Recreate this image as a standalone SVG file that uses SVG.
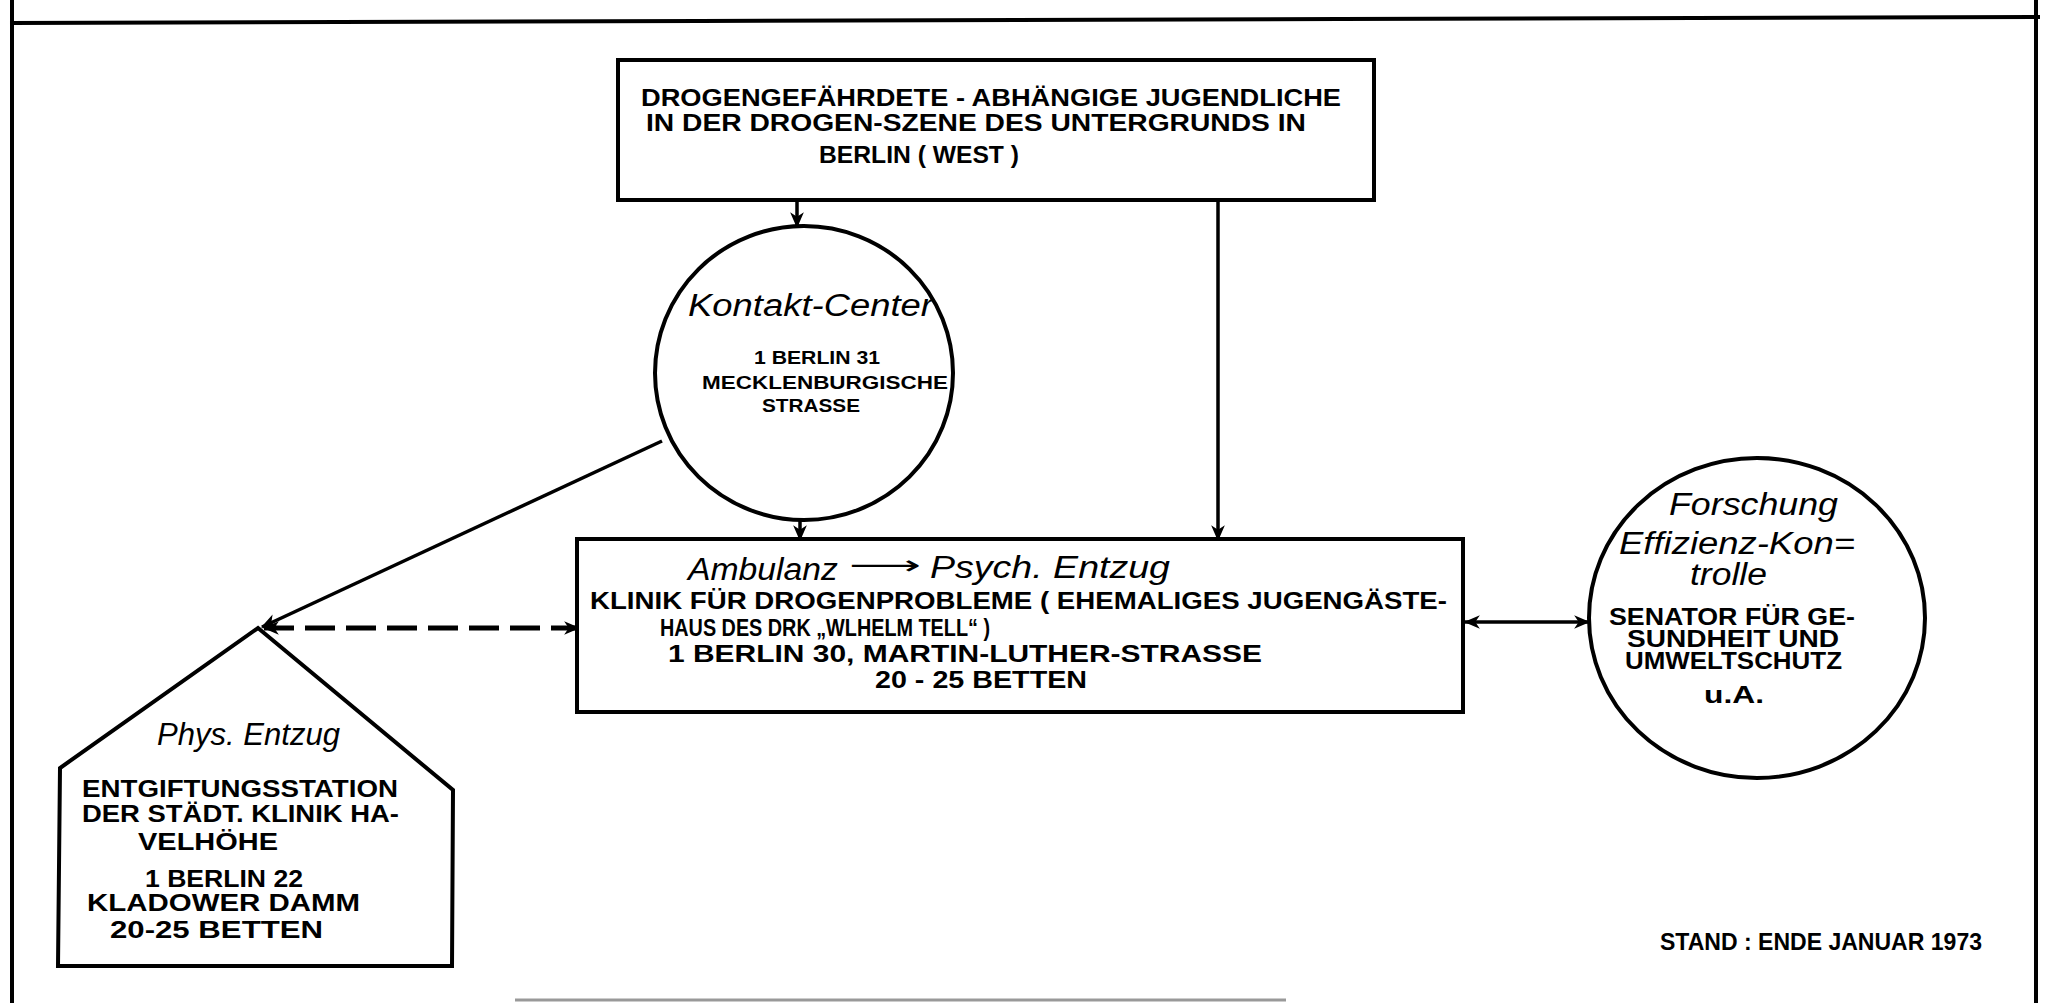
<svg xmlns="http://www.w3.org/2000/svg" width="2048" height="1003" viewBox="0 0 2048 1003">
<defs>
<style>
.frame{stroke:#000;stroke-width:4;fill:none}
.node{fill:#fff;stroke:#000;stroke-width:4}
.conn{stroke:#000;stroke-width:3.5;fill:none}
.dash{stroke-dasharray:30 11;stroke-width:5}
.t{font-family:"Liberation Sans",Arial,sans-serif;font-weight:bold;font-size:23px;fill:#000}
.s{font-size:19px}
.h{font-family:"Liberation Sans",Arial,sans-serif;font-style:italic;font-size:31px;fill:#000}
</style>
<marker id="ah" viewBox="0 0 14 12" refX="13" refY="6" markerWidth="16" markerHeight="14" markerUnits="userSpaceOnUse" orient="auto-start-reverse">
<path d="M0,0 L14,6 L0,12 L4,6 z" fill="#000"/>
</marker>
</defs>
<rect width="2048" height="1003" fill="#fff"/>
<g id="frame">
<polyline class="frame" points="10,23 700,21 1340,19 2040,17"/>
<line class="frame" x1="12" y1="0" x2="12" y2="1003"/>
<line class="frame" x1="2036" y1="0" x2="2036" y2="1003"/>
<line x1="515" y1="1000" x2="1286" y2="1000" stroke="#999" stroke-width="3"/>
</g>
<g id="connectors">
<line class="conn" x1="797" y1="200" x2="797" y2="227" marker-end="url(#ah)"/>
<line class="conn" x1="800" y1="520" x2="800" y2="540" marker-end="url(#ah)"/>
<line class="conn" x1="1218" y1="200" x2="1218" y2="540" marker-end="url(#ah)"/>
<line class="conn" x1="662" y1="441" x2="262" y2="627" marker-end="url(#ah)"/>
<line class="conn dash" x1="264" y1="628" x2="579" y2="628" marker-start="url(#ah)" marker-end="url(#ah)"/>
<line class="conn" x1="1465" y1="622" x2="1589" y2="622" marker-start="url(#ah)" marker-end="url(#ah)"/>
</g>
<g id="node-jugendliche">
<rect class="node" x="618" y="60" width="756" height="140"/>
<text class="t" x="641" y="106" textLength="700" lengthAdjust="spacingAndGlyphs">DROGENGEFÄHRDETE - ABHÄNGIGE JUGENDLICHE</text>
<text class="t" x="646" y="131" textLength="660" lengthAdjust="spacingAndGlyphs">IN DER DROGEN-SZENE DES UNTERGRUNDS  IN</text>
<text class="t" x="819" y="163" textLength="200" lengthAdjust="spacingAndGlyphs">BERLIN ( WEST )</text>
</g>
<g id="node-kontakt">
<ellipse class="node" cx="804" cy="373" rx="149" ry="147"/>
<text class="h" x="688" y="316" textLength="245" lengthAdjust="spacingAndGlyphs">Kontakt-Center</text>
<text class="t s" x="754" y="364" textLength="126" lengthAdjust="spacingAndGlyphs">1 BERLIN 31</text>
<text class="t s" x="702" y="389" textLength="246" lengthAdjust="spacingAndGlyphs">MECKLENBURGISCHE</text>
<text class="t s" x="762" y="412" textLength="98" lengthAdjust="spacingAndGlyphs">STRASSE</text>
</g>
<g id="node-ambulanz">
<rect class="node" x="577" y="539" width="886" height="173"/>
<text class="h" x="688" y="580" textLength="150" lengthAdjust="spacingAndGlyphs">Ambulanz</text>
<text x="849" y="574" font-family="DejaVu Sans,sans-serif" font-size="26" textLength="72" lengthAdjust="spacingAndGlyphs">⟶</text>
<text class="h" x="930" y="578" textLength="240" lengthAdjust="spacingAndGlyphs">Psych. Entzug</text>
<text class="t" x="590" y="609" textLength="857" lengthAdjust="spacingAndGlyphs">KLINIK FÜR DROGENPROBLEME ( EHEMALIGES JUGENGÄSTE-</text>
<text class="t" x="660" y="636" textLength="330" lengthAdjust="spacingAndGlyphs">HAUS DES DRK „WLHELM TELL“ )</text>
<text class="t" x="668" y="662" textLength="594" lengthAdjust="spacingAndGlyphs">1  BERLIN 30, MARTIN-LUTHER-STRASSE</text>
<text class="t" x="875" y="688" textLength="212" lengthAdjust="spacingAndGlyphs">20 - 25  BETTEN</text>
</g>
<g id="node-phys">
<polygon class="node" points="258,628 453,790 452,966 58,966 60,768"/>
<text class="h" x="157" y="745" font-size="28" textLength="183" lengthAdjust="spacingAndGlyphs">Phys. Entzug</text>
<text class="t" x="82" y="797" font-size="22" textLength="316" lengthAdjust="spacingAndGlyphs">ENTGIFTUNGSSTATION</text>
<text class="t" x="82" y="822" font-size="22" textLength="317" lengthAdjust="spacingAndGlyphs">DER STÄDT. KLINIK HA-</text>
<text class="t" x="138" y="850" font-size="22" textLength="140" lengthAdjust="spacingAndGlyphs">VELHÖHE</text>
<text class="t" x="145" y="887" font-size="22" textLength="158" lengthAdjust="spacingAndGlyphs">1 BERLIN 22</text>
<text class="t" x="87" y="911" font-size="22" textLength="273" lengthAdjust="spacingAndGlyphs">KLADOWER DAMM</text>
<text class="t" x="110" y="938" font-size="22" textLength="213" lengthAdjust="spacingAndGlyphs">20-25 BETTEN</text>
</g>
<g id="node-forschung">
<ellipse class="node" cx="1757" cy="618" rx="168" ry="160"/>
<text class="h" x="1669" y="515" textLength="169" lengthAdjust="spacingAndGlyphs">Forschung</text>
<text class="h" x="1619" y="554" font-size="27" textLength="236" lengthAdjust="spacingAndGlyphs">Effizienz-Kon=</text>
<text class="h" x="1690" y="585" font-size="27" textLength="77" lengthAdjust="spacingAndGlyphs">trolle</text>
<text class="t" x="1609" y="625" font-size="17" textLength="246" lengthAdjust="spacingAndGlyphs">SENATOR FÜR GE-</text>
<text class="t" x="1627" y="647" font-size="17" textLength="212" lengthAdjust="spacingAndGlyphs">SUNDHEIT UND</text>
<text class="t" x="1625" y="669" font-size="17" textLength="217" lengthAdjust="spacingAndGlyphs">UMWELTSCHUTZ</text>
<text class="t" x="1704" y="703" font-size="20" textLength="60" lengthAdjust="spacingAndGlyphs">u.A.</text>
</g>
<g id="stand">
<text class="t" x="1660" y="950" font-size="20" textLength="322" lengthAdjust="spacingAndGlyphs">STAND : ENDE JANUAR 1973</text>
</g>
</svg>
